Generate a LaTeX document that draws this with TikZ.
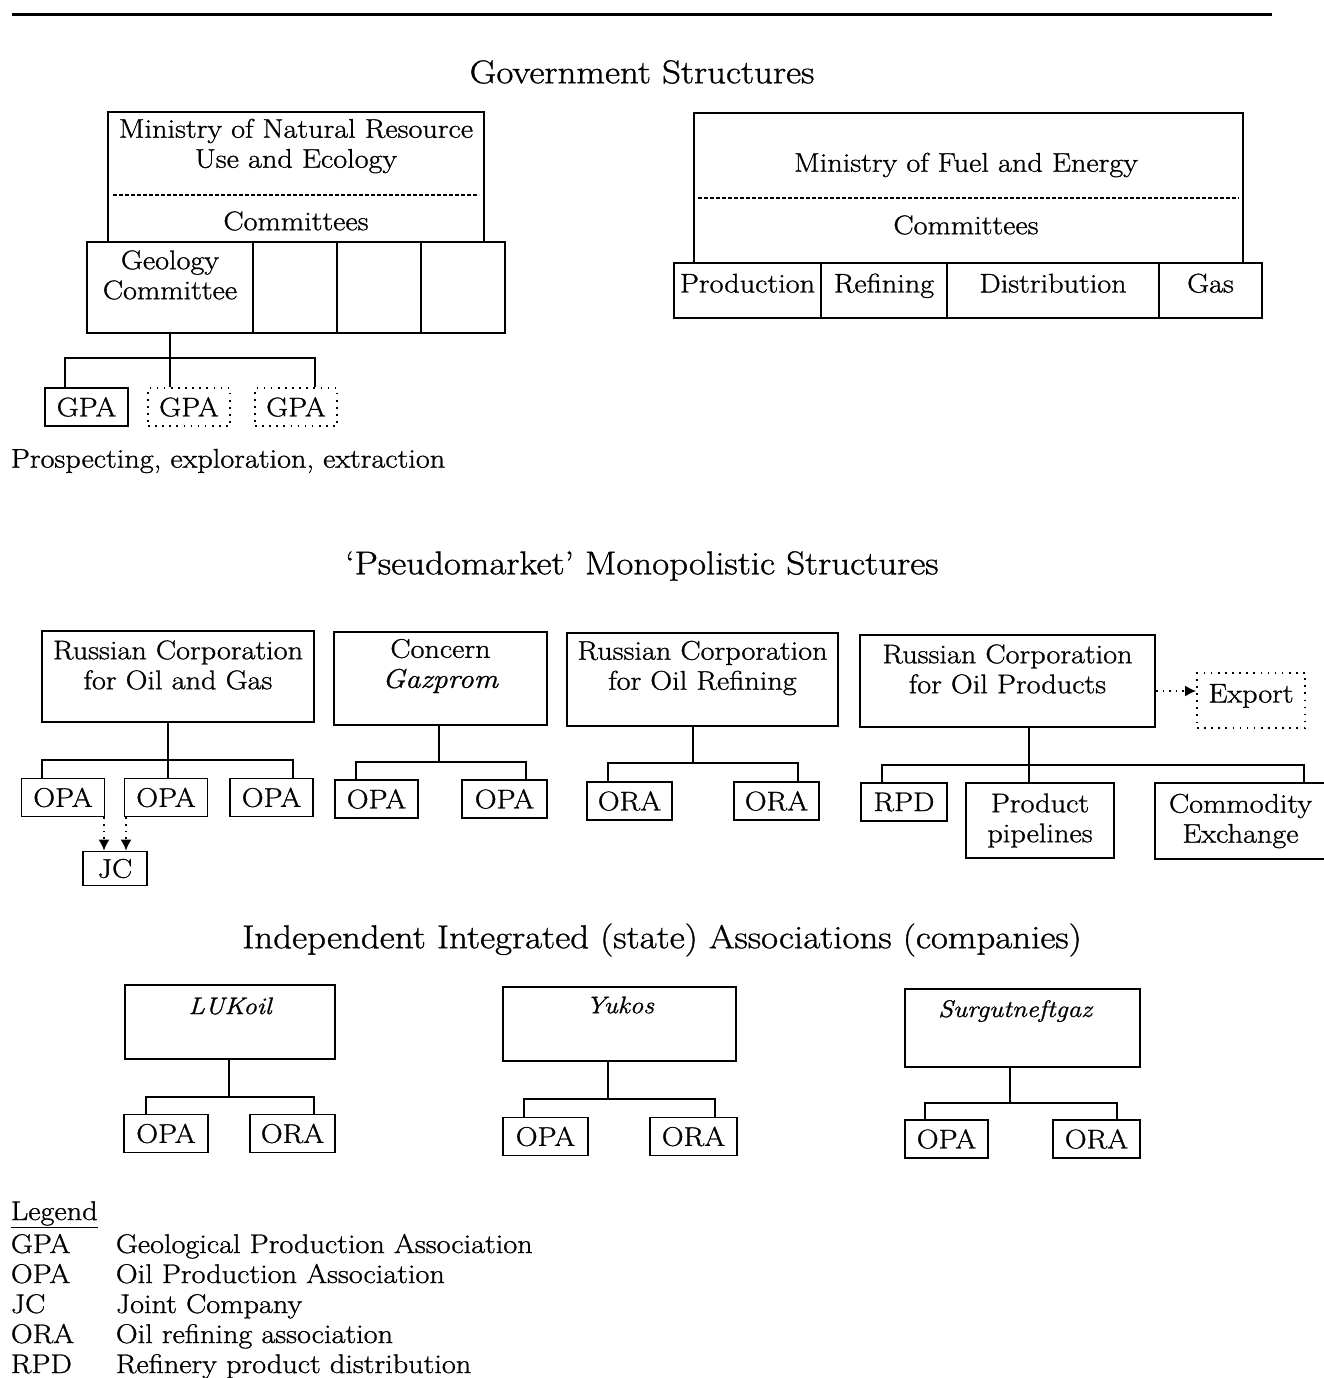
\documentclass[tikz,border=0pt]{standalone}
\usepackage{fontspec}
\setmainfont{Latin Modern Roman}[FakeStretch=1.12, FakeBold=1]
\usepackage{tikz}
\usetikzlibrary{arrows.meta}

\begin{document}
\begin{tikzpicture}[x=1pt, y=-1pt, line width=1.8pt]
        \tikzstyle{box}=[draw, inner sep=0pt]
        \tikzstyle{dotbox}=[draw, inner sep=0pt, dash pattern=on 1.6pt off 5.5pt]
        \tikzstyle{txt}=[inner sep=0pt, align=center, font=\fontsize{27}{30}\selectfont]
        \tikzstyle{itxt}=[inner sep=0pt, font=\fontsize{24}{26}\selectfont\itshape]
        \tikzstyle{head}=[inner sep=0pt, font=\fontsize{33}{36}\selectfont]
        \tikzstyle{leaf}=[box, minimum height=38, font=\fontsize{27}{30}\selectfont]
        \tikzstyle{cell}=[box, minimum height=55, text height=18, text depth=14, font=\fontsize{27}{30}\selectfont]
        \tikzstyle{sep}=[dash pattern=on 4pt off 2pt, line width=1.3pt]
        \tikzstyle{dotlink}=[-{Latex[length=11pt, width=11pt, sep=0pt]}, line width=1.6pt, dash pattern=on 1.6pt off 5pt]

        \useasboundingbox (0,0) rectangle (1324,1378);
        \draw[line width=3pt] (12,15) -- (1272,15);

            % Government structures
            \node[head] (gov) at (642,72) {Government Structures};

            \node[box, minimum width=376, minimum height=130] (mnr) at (296,177) {};
            \draw[sep] (113,195) -- (479,195);
            \node[txt] (mnrname) at (296,146) {Ministry of Natural Resource\\Use and Ecology};
            \node[txt] (mnrcom) at (296,221) {Committees};

            \node[box, minimum width=166, minimum height=91] (geo) at (170,287.5) {};
            \node[box, minimum width=84, minimum height=91] (cm2) at (295,287.5) {};
            \node[box, minimum width=84, minimum height=91] (cm3) at (379,287.5) {};
            \node[box, minimum width=84, minimum height=91] (cm4) at (463,287.5) {};
            \node[txt] (geoname) at (170,275) {Geology\\Committee};

            \node[leaf, minimum width=83] (gpa1) at (86.5,407) {GPA};
            \node[leaf, dotbox, minimum width=82] (gpa2) at (189,407) {GPA};
            \node[leaf, dotbox, minimum width=82] (gpa3) at (296,407) {GPA};

            \coordinate (gj) at (170,358);
            \draw (geo.south) -- (gj) -- (gj |- gpa2.north);
            \draw ([xshift=-21.5pt]gpa1.north) |- (gj) -| ([xshift=19pt]gpa3.north);

            \node[txt, anchor=west] (prosp) at (10,461) {Prospecting, exploration, extraction};

            \node[box, minimum width=549, minimum height=150] (mfe) at (968.5,188) {};
            \draw[sep] (698,198) -- (1239,198);
            \node[txt] (mfename) at (966,165) {Ministry of Fuel and Energy};
            \node[txt] (mfecom) at (966,225) {Committees};

            \node[cell, minimum width=147] (prod) at (747.5,290.5) {Production};
            \node[cell, minimum width=126] (refi) at (884,290.5) {Refining};
            \node[cell, minimum width=212] (dist) at (1053,290.5) {Distribution};
            \node[cell, minimum width=103] (gas) at (1210.5,290.5) {Gas};

            % Pseudomarket structures
            \node[head] (pseudo) at (642,566) {`Pseudomarket' Monopolistic Structures};

            \node[box, minimum width=272, minimum height=91] (rcog) at (178,676.5) {};
            \node[txt] (rcogname) at (178,665) {Russian Corporation\\for Oil and Gas};
            \node[box, minimum width=213, minimum height=93] (gaz) at (440.5,678.5) {};
            \node[txt] (gazname) at (440.5,666) {Concern\\\textit{Gazprom}};
            \node[box, minimum width=271, minimum height=93] (rcor) at (702.5,679.5) {};
            \node[txt] (rcorname) at (702.5,668) {Russian Corporation\\for Oil Refining};
            \node[box, minimum width=295, minimum height=92] (rcop) at (1007.5,681) {};
            \node[txt] (rcopname) at (1007.5,669) {Russian Corporation\\for Oil Products};
            \node[cell, dotbox, minimum width=108] (export) at (1251,700.5) {Export};

            \coordinate (expin) at ([yshift=9.5pt]export.west);
            \draw[dotlink] (rcop.east |- expin) -- (expin);

            \node[leaf, minimum width=83] (opa1) at (63,797.5) {OPA};
            \node[leaf, minimum width=83] (opa2) at (166,797.5) {OPA};
            \node[leaf, minimum width=83] (opa3) at (271.5,797.5) {OPA};
            \node[leaf, minimum width=64, minimum height=34] (jc) at (115,868.5) {JC};

            \coordinate (rj) at (168,760);
            \draw (rcog.south -| rj) -- (rj) -- (rj |- opa2.north);
            \draw ([xshift=-21pt]opa1.north) |- (rj) -| ([xshift=21.5pt]opa3.north);
            \draw[dotlink] ([xshift=-11pt]jc.north |- opa1.south) -- ([xshift=-11pt]jc.north);
            \draw[dotlink] ([xshift=11pt]jc.north |- opa2.south) -- ([xshift=11pt]jc.north);

            \node[leaf, minimum width=83] (opa4) at (376.5,799) {OPA};
            \node[leaf, minimum width=85] (opa5) at (504.5,799) {OPA};
            \coordinate (gj2) at (439,762);
            \draw (gaz.south -| gj2) -- (gj2);
            \draw ([xshift=-20.5pt]opa4.north) |- (gj2) -| ([xshift=21.5pt]opa5.north);

            \node[leaf, minimum width=85] (ora1) at (629.5,801) {ORA};
            \node[leaf, minimum width=85] (ora2) at (776.5,801) {ORA};
            \coordinate (oj) at (693,763);
            \draw (rcor.south -| oj) -- (oj);
            \draw ([xshift=-21.5pt]ora1.north) |- (oj) -| ([xshift=21.5pt]ora2.north);

            \node[leaf, minimum width=86] (rpd) at (904,802) {RPD};
            \node[box, txt, minimum width=148, minimum height=75] (pipe) at (1040,820.5) {Product\\pipelines};
            \node[box, txt, minimum width=171, minimum height=76] (comm) at (1240.5,821) {Commodity\\Exchange};
            \coordinate (pj) at (1029,765);
            \draw (rcop.south -| pj) -- (pj) -- (pj |- pipe.north);
            \draw ([xshift=-22pt]rpd.north) |- (pj) -| ([xshift=63.5pt]comm.north);

            % Independent associations
            \node[head] (indep) at (662,940) {Independent Integrated (state) Associations (companies)};

            \node[box, minimum width=210, minimum height=74] (luk) at (230,1022) {};
            \node[itxt] (lukname) at (230,1006) {LUKoil};
            \node[leaf, minimum width=84] (lopa) at (166,1133.5) {OPA};
            \node[leaf, minimum width=85] (lora) at (292.5,1133.5) {ORA};
            \coordinate (lj) at (229,1097);
            \draw (luk.south -| lj) -- (lj);
            \draw ([xshift=-20pt]lopa.north) |- (lj) -| ([xshift=21.5pt]lora.north);

            \node[box, minimum width=233, minimum height=74] (yuk) at (619.5,1024) {};
            \node[itxt] (yukname) at (620,1005) {Yukos};
            \node[leaf, minimum width=85] (yopa) at (545.5,1136.5) {OPA};
            \node[leaf, minimum width=87] (yora) at (693.5,1136.5) {ORA};
            \coordinate (yj) at (608,1099);
            \draw (yuk.south -| yj) -- (yj);
            \draw ([xshift=-21.5pt]yopa.north) |- (yj) -| ([xshift=21.5pt]yora.north);

            \node[box, minimum width=235, minimum height=78] (sur) at (1022.5,1028) {};
            \node[itxt] (surname) at (1015,1011) {Surgutneftgaz};
            \node[leaf, minimum width=83] (sopa) at (946.5,1139) {OPA};
            \node[leaf, minimum width=87] (sora) at (1096.5,1139) {ORA};
            \coordinate (sj) at (1010,1103);
            \draw (sur.south -| sj) -- (sj);
            \draw ([xshift=-21.5pt]sopa.north) |- (sj) -| ([xshift=20.5pt]sora.north);

            % Legend
            \node[txt, anchor=base west] (lgd) at (10,1220) {\underline{Legend}};
            \node[txt, anchor=base west] (ab1) at (10,1253) {GPA};
            \node[txt, anchor=base west] (de1) at (115,1253) {Geological Production Association};
            \node[txt, anchor=base west] (ab2) at (10,1283) {OPA};
            \node[txt, anchor=base west] (de2) at (115,1283) {Oil Production Association};
            \node[txt, anchor=base west] (ab3) at (10,1313) {JC};
            \node[txt, anchor=base west] (de3) at (115,1313) {Joint Company};
            \node[txt, anchor=base west] (ab4) at (10,1343) {ORA};
            \node[txt, anchor=base west] (de4) at (115,1343) {Oil refining association};
            \node[txt, anchor=base west] (ab5) at (10,1373) {RPD};
            \node[txt, anchor=base west] (de5) at (115,1373) {Refinery product distribution};
\end{tikzpicture}
\end{document}
